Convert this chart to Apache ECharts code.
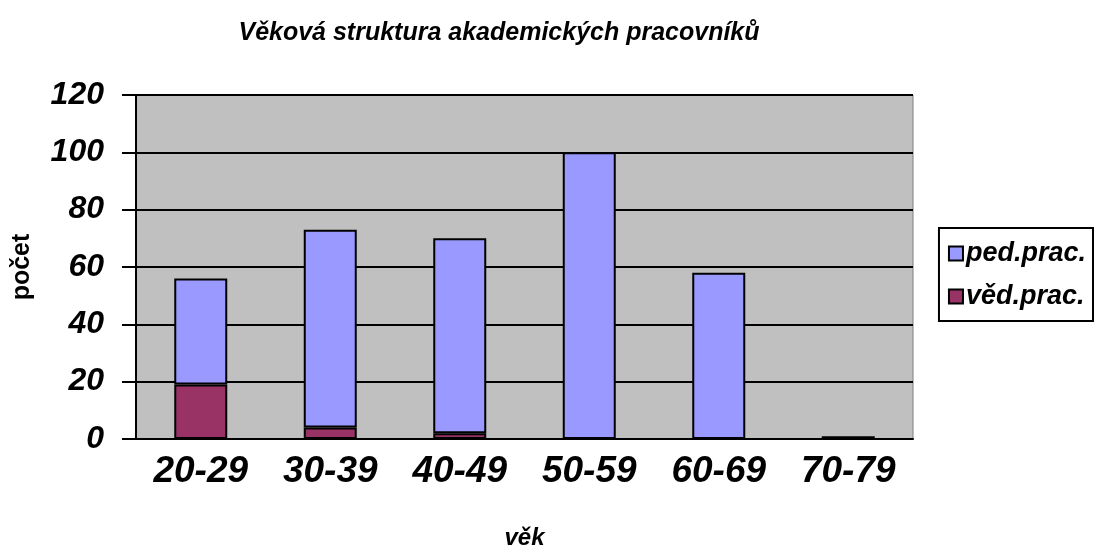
<!DOCTYPE html>
<html>
<head>
<meta charset="utf-8">
<script src="https://cdn.jsdelivr.net/npm/echarts@6/dist/echarts.min.js"></script>
<style>
  html, body { margin: 0; padding: 0; background: #fff; }
  #chart { width: 1096px; height: 552px; }
</style>
</head>
<body>
<div id="chart"></div>
<script>
const categories = ['20-29', '30-39', '40-49', '50-59', '60-69', '70-79']
const vedPrac = [19, 4, 2, 0, 0, 0]
const pedPrac = [37, 69, 68, 100, 58, 1]
const yTicks = { min: 0, max: 120, interval: 20 }

const font = '"Liberation Sans Narrow", "Liberation Sans", Arial, sans-serif'

const chart = echarts.init(document.getElementById('chart'))
chart.setOption({
  animation: false,
  title: {
    text: 'Věková struktura akademických pracovníků',
    left: 494,
    top: 16,
    textAlign: 'center',
    textStyle: { fontFamily: font, fontSize: 25, fontWeight: 'bold', fontStyle: 'italic', color: '#000' }
  },
  legend: {
    orient: 'vertical',
    right: 3,
    top: 228,
    padding: [12, 7, 11, 9],
    itemGap: 16,
    itemWidth: 14,
    itemHeight: 14,
    borderColor: '#000',
    borderWidth: 2,
    icon: 'rect',
    textStyle: { fontFamily: font, fontSize: 27, fontWeight: 'bold', fontStyle: 'italic', color: '#000', padding: [0, 0, 0, -2] },
    data: ['ped.prac.', 'věd.prac.']
  },
  grid: {
    left: 136, right: 183, top: 95, bottom: 113,
    outerBoundsMode: 'none',
    show: true, backgroundColor: '#c0c0c0', borderColor: '#808080', borderWidth: 1
  },
  xAxis: {
    type: 'category',
    data: categories,
    name: 'věk',
    nameLocation: 'middle',
    nameGap: 87,
    nameTextStyle: { fontFamily: font, fontSize: 24, fontWeight: 'bold', fontStyle: 'italic', color: '#000' },
    axisLine: { lineStyle: { color: '#000', width: 2 } },
    axisTick: { inside: true, length: 10, lineStyle: { color: '#000', width: 2 } },
    axisLabel: { fontFamily: font, fontSize: 37, fontWeight: 'bold', fontStyle: 'italic', color: '#000', margin: 14 }
  },
  yAxis: {
    type: 'value',
    min: yTicks.min,
    max: yTicks.max,
    interval: yTicks.interval,
    name: 'počet',
    nameLocation: 'middle',
    nameGap: 101,
    nameRotate: 90,
    nameTextStyle: { fontFamily: font, fontSize: 25, fontWeight: 'bold', color: '#000' },
    axisLine: { show: true, lineStyle: { color: '#000', width: 2 } },
    axisTick: { show: true, length: 14, lineStyle: { color: '#000', width: 2 } },
    splitLine: { lineStyle: { color: '#000', width: 2 } },
    axisLabel: { fontFamily: font, fontSize: 32, fontWeight: 'bold', fontStyle: 'italic', color: '#000', margin: 32 }
  },
  series: [
    {
      name: 'věd.prac.',
      type: 'bar',
      stack: 'all',
      data: vedPrac,
      barWidth: 53,
      itemStyle: { color: '#993366', borderColor: '#000', borderWidth: 2 }
    },
    {
      name: 'ped.prac.',
      type: 'bar',
      stack: 'all',
      data: pedPrac,
      barWidth: 53,
      itemStyle: { color: '#9999ff', borderColor: '#000', borderWidth: 2 }
    }
  ]
})
</script>
</body>
</html>
